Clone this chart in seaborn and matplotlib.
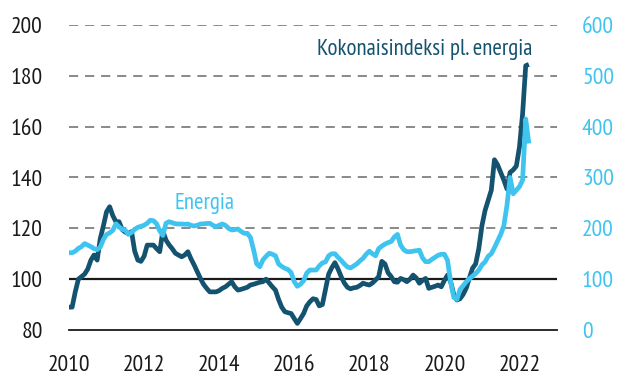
import numpy as np
import pandas as pd
import matplotlib
matplotlib.use("Agg")
import matplotlib.pyplot as plt
import seaborn as sns

# Monthly index values, January 2010 - April 2022
core_2010 = [89, 89, 95, 100, 101, 102, 104, 107.5, 109.5, 107.5, 116, 121]
core_2011 = [126.5, 128.5, 125, 122.6, 122.6, 119.5, 118.5, 118, 118.7, 111, 107.5, 107]
core_2012 = [109, 113.4, 113.4, 113.4, 112, 110.8, 119, 115.4, 113.5, 112, 110.2, 109.5]
core_2013 = [108.8, 109.5, 110.8, 108, 105.6, 103, 100.3, 98, 96.4, 95, 95, 95]
core_2014 = [95.5, 96.4, 97, 98, 99, 97, 95.7, 96, 96.4, 96.8, 97.7, 98]
core_2015 = [98.4, 98.8, 99, 100, 98.5, 97, 95.7, 92, 89, 87.2, 86.8, 86.5]
core_2016 = [84.5, 82.6, 84.5, 86.5, 89.5, 91.1, 92.3, 92, 89.5, 90, 96, 102]
core_2017 = [104.5, 106.5, 104, 101, 98.5, 96.8, 96.2, 96.6, 96.8, 97.5, 98.4, 98]
core_2018 = [97.7, 98.5, 99.7, 101, 107, 106, 102.5, 101, 99, 98.8, 100.3, 99.8]
core_2019 = [99, 100, 101.6, 100.5, 98.4, 99.5, 100.3, 96.4, 96.8, 97.2, 97.7, 97]
core_2020 = [99.5, 101.6, 99, 94, 91.8, 92.3, 94, 96.5, 100.5, 104.3, 106, 112]
core_2021 = [121, 127, 131, 135, 147, 145, 142, 139, 135.5, 142, 143, 144.5]
core_2022 = [152, 165, 184, 184.5]

energy_2010 = [152, 152, 155, 160.6, 164, 170, 167, 164, 160, 158, 163, 178]
energy_2011 = [188, 191, 196, 209, 203, 198, 196, 188, 192, 198, 202, 204]
energy_2012 = [206, 210, 216, 215, 209, 195, 186, 210, 213, 211, 209, 208.5]
energy_2013 = [208.5, 208, 208.5, 206, 204.6, 206, 208.5, 209, 209.5, 209.9, 206, 203.2]
energy_2014 = [206, 208.5, 206, 200, 196.7, 197.5, 198.7, 194, 190.2, 190.2, 182, 158]
energy_2015 = [130, 124.5, 138, 145, 151, 149, 146, 130, 125, 121.4, 119, 113]
energy_2016 = [95, 86, 90, 97, 112, 118, 118, 118, 126, 132, 134, 146]
energy_2017 = [150, 150, 143, 137, 130, 124, 122, 126, 130, 136, 141, 149]
energy_2018 = [155, 150, 146, 160, 165, 169, 172, 174, 183, 188, 167, 158]
energy_2019 = [154, 154, 155, 156, 157, 142, 134.4, 134.4, 139, 143, 147, 149]
energy_2020 = [149, 137, 95, 64, 60, 80, 87, 95, 101, 106, 111, 118]
energy_2021 = [128, 134, 145, 150, 162, 175, 188, 205, 245, 300, 268, 275]
energy_2022 = [282, 295, 415, 367]

core_label = "Kokonaisindeksi pl. energia"
energy_label = "Energia"
left_ticks = [80, 100, 120, 140, 160, 180, 200]
right_ticks = [0, 100, 200, 300, 400, 500, 600]
years = list(range(2010, 2024))

core = (core_2010 + core_2011 + core_2012 + core_2013 + core_2014 + core_2015
        + core_2016 + core_2017 + core_2018 + core_2019 + core_2020 + core_2021
        + core_2022)
energy = (energy_2010 + energy_2011 + energy_2012 + energy_2013 + energy_2014
          + energy_2015 + energy_2016 + energy_2017 + energy_2018 + energy_2019
          + energy_2020 + energy_2021 + energy_2022)

dates = pd.date_range("2010-01-01", periods=len(core), freq="MS")
t = dates.year + (dates.month - 1) / 12.0
df = pd.DataFrame({"t": t, "core": core, "energy": energy})

DARK = "#14536f"
LIGHT = "#3fc4ef"
INK = "#1a1a1a"

sns.set_style("white")
plt.rcParams["font.family"] = ["PT Sans Narrow", "Liberation Sans", "DejaVu Sans"]

fig = plt.figure(figsize=(6.17, 3.76), dpi=100)
ax = fig.add_axes([69 / 617, 1 - 330 / 376, 488 / 617, 305 / 376])
ax2 = ax.twinx()

# gridlines and the 100 reference line
for v in left_ticks[2:]:
    ax.axhline(v, color="#6a6a6a", lw=1.1, ls=(0, (6, 4.5)), zorder=1)
ax.axhline(100, color=INK, lw=1.6, zorder=2)

sns.lineplot(data=df, x="t", y="core", ax=ax, color=DARK, lw=3.4,
             solid_capstyle="butt", zorder=3, legend=False)
sns.lineplot(data=df, x="t", y="energy", ax=ax2, color=LIGHT, lw=3.4,
             solid_capstyle="butt", zorder=3, legend=False)

ax.set_xlim(2010, 2023)
ax.set_ylim(80, 200)
ax2.set_ylim(0, 600)
ax.set_xlabel("")
ax.set_ylabel("")
ax2.set_ylabel("")

ax.set_xticks(years)
ax.set_xticklabels([str(y) if (y % 2 == 0 and y < 2023) else "" for y in years])
ax.set_yticks(left_ticks)
ax.set_yticklabels([str(v) for v in left_ticks])
ax2.set_yticks(right_ticks)
ax2.set_yticklabels([str(v) for v in right_ticks])

for a in (ax, ax2):
    for s in ("top", "left", "right", "bottom"):
        a.spines[s].set_visible(False)
ax.spines["bottom"].set_visible(True)
ax.spines["bottom"].set_color(INK)
ax.spines["bottom"].set_linewidth(1.3)

ax.tick_params(axis="x", direction="in", length=6, width=1.2, color=INK,
               labelsize=17, labelcolor=INK, pad=18)
ax.tick_params(axis="y", length=0, labelsize=17, labelcolor=INK, pad=19)
ax2.tick_params(axis="y", length=0, labelsize=17, labelcolor=LIGHT, pad=18)

ax.text(2016.6, 188.2, core_label, color=DARK, fontsize=16.5, va="baseline", ha="left")
ax.text(2012.82, 127.5, energy_label, color=LIGHT, fontsize=16.5, va="baseline", ha="left")

fig.savefig("out.png", dpi=100)
